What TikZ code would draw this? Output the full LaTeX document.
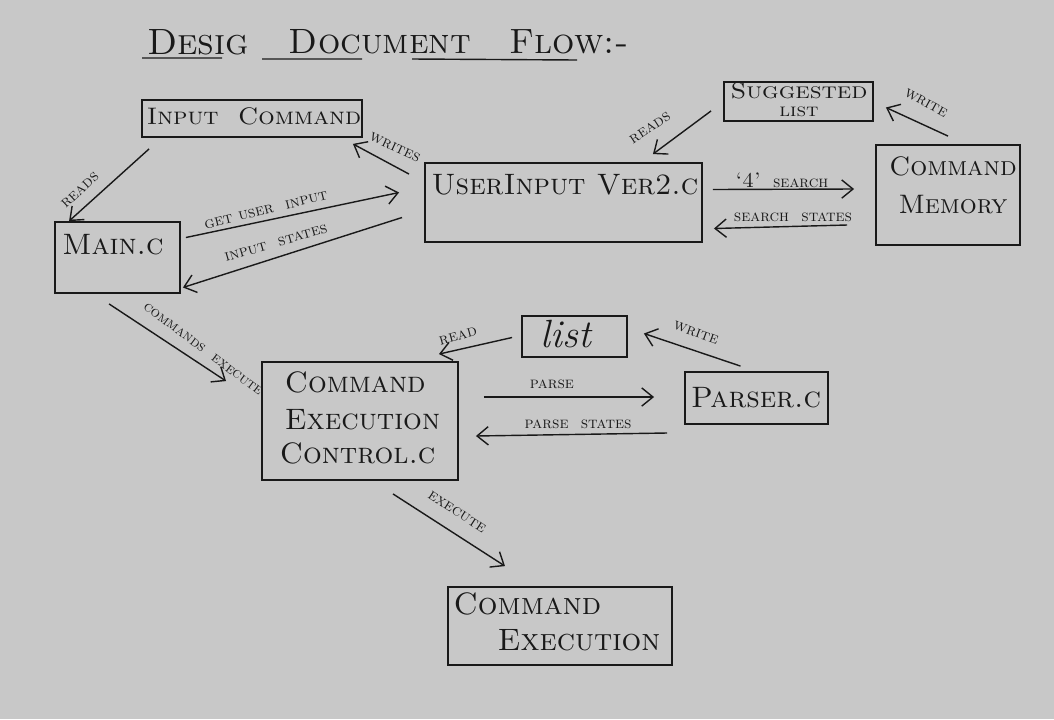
\documentclass[tikz,border=0pt]{standalone}
\usetikzlibrary{arrows.meta,calc}
\definecolor{paper}{RGB}{200,200,200}
\definecolor{ink}{RGB}{25,25,25}
\newcommand{\fs}[1]{\fontsize{#1}{#1}\selectfont}
\begin{document}
\begin{tikzpicture}[x=0.025cm,y=-0.025cm,
  box/.style={draw=ink, line width=1.3pt, inner sep=0pt},
  arr/.style={draw=ink, line width=1pt, -{Straight Barb[length=8pt,width=13pt,line width=1pt]}},
  lbl/.style={text=ink, font=\fs{11.5}\scshape, inner sep=1pt},
  txt/.style={text=ink, font=\fs{21}\scshape, align=center, inner sep=0pt},
  ttl/.style={text=ink, font=\fs{26}\scshape, inner sep=0pt}]
\fill[paper] (0,0) rectangle (1054,719);
\useasboundingbox (0,0) rectangle (1054,719);

% title
\node[ttl] (title1) at (198,42) {Desig};
\node[ttl, font=\fs{25}\scshape] (title2) at (380,42) {Document};
\node[ttl, font=\fs{25}\scshape] (title3) at (569,42) {Flow:-};
\draw[ink, line width=1pt] (142,58) -- (222,58) (262,59) -- (362,59) (412,59) -- (577,60);

% boxes
\node[box, minimum width=5.5cm, minimum height=0.925cm] (inp) at (252,118.5) {};
\node[txt, font=\fs{17}\scshape, xscale=1.08] (inpt) at (254,116) {Input\ \ Command};

\node[box, minimum width=3.125cm, minimum height=1.775cm] (main) at (117.5,257.5) {};
\node[txt] (maint) at (113,245) {Main.c};

\node[box, minimum width=6.925cm, minimum height=1.975cm] (user) at (563.5,202.5) {};
\node[txt] (usert) at (565,185) {UserInput Ver2.c};

\node[box, minimum width=3.725cm, minimum height=0.975cm] (sugg) at (798.5,101.5) {};
\node[txt, font=\fs{16}\scshape, xscale=1.15] (suggt) at (799,100) {Suggested\\[-3pt]{\fs{13}list}};

\node[box, minimum width=3.6cm, minimum height=2.5cm] (mem) at (948,195) {};
\node[txt, font=\fs{19}\scshape] (memt) at (953,185) {Command\\[8pt]Memory};

\node[box, minimum width=2.625cm, minimum height=1.025cm] (list) at (574.5,336.5) {};
\node[txt, font=\fs{28}\itshape] (listt) at (566,334) {list};

\node[box, minimum width=4.9cm, minimum height=2.95cm] (ctrl) at (360,421) {};
\node[txt, align=left] (ctrlt) at (360,418) {\,Command\\[5pt]\,Execution\\[3pt]Control.c};

\node[box, minimum width=3.575cm, minimum height=1.3cm] (parser) at (756.5,398) {};
\node[txt] (parsert) at (756,398) {Parser.c};

\node[box, minimum width=5.6cm, minimum height=1.95cm] (cexec) at (560,626) {};
\node[txt, align=left, font=\fs{22}\scshape] (cexect) at (557,622) {Command\\[4pt]\hspace{1.1cm}Execution};

% connectors
\draw[arr] ($(inp.south west)+(8,11)$) -- ($(main.north west)+(15,0)$);
\node[lbl, rotate=43] (l1) at (80,190) {reads};

\draw[arr] ($(user.north west)+(-15,12)$) -- ($(inp.south east)+(-10,6)$);
\node[lbl, rotate=-25] (l2) at (395,147) {writes};

\draw[arr] ($(main.east)+(5,-20)$) -- ($(user.west)+(-25,-10)$);
\node[lbl, rotate=14] (l3) at (266,210) {get\ user\ \ input};

\draw[arr] ($(user.west)+(-22,15)$) -- ($(main.east)+(2,30)$);
\node[lbl, rotate=16] (l4) at (276,243) {input\ \ states};

\draw[arr] ($(sugg.south west)+(-12,-11)$) -- ($(user.north east)+(-50,-8)$);
\node[lbl, rotate=33] (l5) at (650,128) {reads};

\draw[arr] ($(mem.north)+(0,-8)$) -- ($(sugg.east)+(12,6)$);
\node[lbl, rotate=-29] (l6) at (926,103) {write};

\draw[arr] ($(user.east)+(10,-13)$) -- ($(mem.west)+(-21,-6)$);
\node[lbl] (l7) at (782,180) {{\fs{15}`4'}\ \ search};

\draw[arr] ($(mem.west)+(-28,30)$) -- ($(user.east)+(11,26)$);
\node[lbl] (l8) at (793,217) {search\ \ states};

\draw[arr] ($(main.south west)+(55,10)$) -- ($(ctrl.north west)+(-35,20)$);
\node[lbl, rotate=-37, font=\fs{10.5}\scshape] (l9) at (203,349) {commands\ \ execute};

\draw[arr] ($(list.west)+(-9,1)$) -- ($(ctrl.north east)+(-20,-7)$);
\node[lbl, rotate=15] (l10) at (458,336) {read};

\draw[arr] ($(parser.north)+(-16,-5)$) -- ($(list.east)+(16,-3)$);
\node[lbl, rotate=-20] (l11) at (696,333) {write};

\draw[arr] ($(ctrl.east)+(25,-24)$) -- ($(parser.west)+(-30,-1)$);
\node[lbl] (l12) at (552,384) {parse};

\draw[arr] ($(parser.west)+(-17,35)$) -- ($(ctrl.east)+(17,15)$);
\node[lbl] (l13) at (578,424) {parse\ \ states};

\draw[arr] ($(ctrl.south)+(33,13)$) -- ($(cexec.north)+(-55,-20)$);
\node[lbl, rotate=-33] (l14) at (457,512) {execute};
\end{tikzpicture}
\end{document}
